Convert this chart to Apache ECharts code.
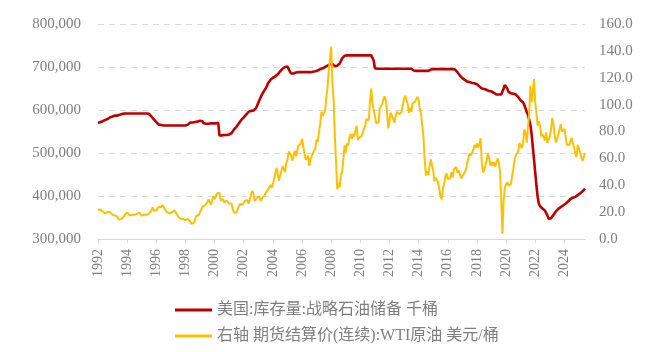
<!DOCTYPE html>
<html>
<head>
<meta charset="utf-8">
<script src="https://cdn.jsdelivr.net/npm/echarts@6/dist/echarts.min.js"></script>
<style>
html,body{margin:0;padding:0;background:#fff;}
#chart{width:665px;height:352px;}
</style>
</head>
<body>
<div id="chart"></div>
<script>
// Monthly categories: 1992-07 .. 2025-12
const startYear = 1992, startMonth = 7, endYear = 2025, endMonth = 12;
const categories = [];
for (let y = startYear, m = startMonth; y < endYear || (y === endYear && m <= endMonth); ) {
  categories.push(y + '-' + (m < 10 ? '0' + m : m));
  m++; if (m > 12) { m = 1; y++; }
}

const seriesNames = ['美国:库存量:战略石油储备 千桶', '右轴 期货结算价(连续):WTI原油 美元/桶'];

// US Strategic Petroleum Reserve, thousand barrels (monthly)
const sprStock = [
  570000,571000,572000,573000,574000,575000,
  577000,578000,579000,581000,583000,584000,585000,586000,587000,587000,587000,588000,
  589000,590000,591000,592000,592000,592000,592000,592000,592000,592000,592000,592000,
  592000,592000,592000,592000,592000,592000,592000,592000,592000,592000,592000,592000,
  591000,588000,585000,582000,578000,575000,572000,568000,566000,565000,565000,564000,
  564000,564000,564000,564000,564000,564000,564000,564000,564000,564000,564000,564000,
  564000,564000,564000,564000,564000,564000,564000,564000,566000,570000,571000,571000,
  571000,571000,572000,572000,573000,574000,575000,575000,574000,569000,568000,568000,
  568000,568000,568000,569000,569000,569000,569000,569000,570000,570000,541000,541000,
  541000,541000,542000,542000,542000,543000,543000,544000,546000,550000,555000,558000,
  561000,565000,569000,573000,577000,580000,583000,586000,589000,592000,596000,598000,
  598000,598000,599000,600000,604000,610000,617000,624000,630000,636000,641000,645000,
  650000,655000,662000,666000,670000,673000,675000,677000,678000,680000,683000,687000,
  690000,693000,696000,698000,700000,701000,701000,700000,690000,685000,684000,685000,
  686000,687000,688000,688000,688000,688000,688000,688000,688000,688000,688000,688000,
  688000,688000,689000,689000,690000,690000,691000,692000,694000,695000,696000,697000,
  698000,700000,702000,703000,705000,706000,707000,707000,703000,702000,702000,703000,
  704000,708000,714000,720000,724000,726000,727000,727000,727000,727000,727000,727000,
  727000,727000,727000,727000,727000,727000,727000,727000,727000,727000,727000,727000,
  727000,727000,727000,727000,727000,715000,697000,696000,696000,696000,696000,696000,
  696000,696000,696000,696000,696000,696000,696000,696000,696000,696000,696000,696000,
  696000,696000,696000,696000,696000,696000,696000,696000,696000,696000,696000,696000,
  696000,695000,692000,691000,691000,691000,691000,691000,691000,691000,691000,691000,
  691000,691000,691000,692000,694000,695000,695000,695000,695000,695000,695000,695000,
  695000,695000,695000,695000,695000,695000,695000,695000,695000,695000,695000,695000,
  694000,692000,688000,684000,680000,676000,674000,672000,670000,667000,666000,665000,
  665000,664000,663000,662000,662000,661000,660000,658000,655000,652000,650000,649000,
  649000,648000,647000,646000,644000,643000,643000,642000,640000,637000,636000,636000,
  636000,636000,636000,640000,650000,658000,656000,650000,642000,640000,639000,638000,
  638000,637000,636000,634000,630000,626000,622000,620000,618000,612000,604000,595000,
  590000,578000,566000,545000,515000,485000,455000,425000,398000,382000,376000,372000,
  371000,369000,366000,362000,355000,347000,346000,348000,352000,356000,360000,364000,
  368000,370000,372000,374000,376000,378000,380000,382000,384000,387000,390000,393000,
  395000,396000,397000,398000,400000,402000,404000,406000,408000,411000,414000,417000
];

// WTI continuous futures settlement, USD/bbl (monthly)
const wtiPrice = [
  21.8,21.4,21.9,21.7,20.3,19.4,
  19.1,20.1,20.3,20.3,19.9,19.1,17.9,18.0,17.5,18.2,16.7,14.5,
  15.0,14.8,14.7,16.4,17.9,19.1,19.7,18.4,17.5,17.7,18.1,17.2,
  18.0,18.6,18.5,19.9,19.7,18.4,17.3,18.0,18.2,17.4,18.0,19.0,
  18.9,19.1,21.3,23.5,21.2,20.4,21.3,22.0,24.0,24.9,23.7,25.4,
  25.2,22.2,21.0,19.7,20.8,19.2,19.6,19.9,19.8,21.3,20.2,18.3,
  16.7,16.1,15.0,15.4,14.9,13.7,14.1,13.4,15.0,14.4,12.9,11.3,
  12.5,12.0,14.7,17.3,17.8,17.9,20.1,21.3,23.9,22.6,25.0,26.1,
  27.2,29.4,29.9,25.7,28.8,31.8,29.7,31.3,33.9,33.1,34.4,28.5,
  29.6,29.6,27.2,27.4,28.6,27.6,26.4,27.4,26.2,22.2,19.6,19.3,
  19.7,20.7,24.4,26.2,27.0,25.5,26.9,28.4,29.7,28.9,26.3,29.4,
  32.9,35.9,33.6,28.3,28.1,30.7,30.8,31.6,28.3,30.3,31.1,32.1,
  34.3,34.7,36.7,36.7,40.3,38.0,40.7,44.9,45.9,53.1,48.5,43.3,
  46.8,48.0,54.3,53.0,49.8,56.4,59.0,65.0,65.6,62.4,58.3,59.4,
  65.5,61.6,62.9,69.4,70.8,70.9,74.4,73.0,63.8,58.9,59.1,62.0,
  54.5,59.3,60.4,64.0,63.5,67.5,74.1,72.4,79.9,85.8,94.8,91.7,
  93.0,95.4,105.5,112.6,125.4,134.0,143.0,116.7,104.1,76.6,57.3,37.0,
  41.7,38.5,48.0,49.8,59.2,69.7,64.3,71.1,69.4,75.7,78.0,74.5,
  78.3,76.4,81.2,84.3,73.7,75.3,76.3,76.6,75.2,81.9,84.3,89.2,
  89.2,88.6,102.9,112.0,100.9,96.3,97.3,86.3,85.5,86.3,97.2,98.6,
  100.3,104.0,106.2,103.3,94.7,82.3,87.9,94.1,94.5,89.5,86.5,87.9,
  94.8,95.3,92.9,92.0,94.5,95.8,104.6,106.6,106.3,100.5,93.9,97.6,
  94.6,100.8,100.8,102.1,102.2,105.8,103.6,96.5,93.2,84.4,75.8,59.3,
  47.2,50.6,47.8,54.5,59.3,59.8,50.9,42.9,45.5,46.2,42.4,37.2,
  31.7,29.5,37.5,40.8,46.7,48.8,44.7,44.7,45.2,49.8,45.7,52.0,
  52.5,53.5,49.3,51.1,48.5,45.2,46.6,48.0,49.8,51.6,56.6,57.9,
  63.7,62.2,62.7,66.3,70.0,67.9,71.0,68.1,70.2,75.0,57.0,49.5,
  51.4,55.0,58.2,63.9,60.8,54.7,57.4,54.8,57.0,54.0,57.0,59.9,
  57.5,50.5,29.2,4.0,28.6,38.3,40.7,42.3,39.6,39.4,41.0,47.0,
  52.0,59.0,62.3,61.7,65.2,71.4,72.5,67.7,71.6,81.5,79.2,71.7,
  83.2,91.6,114.0,101.8,109.6,119.0,101.6,93.7,84.3,87.6,84.4,76.4,
  78.1,76.8,73.3,79.4,71.6,70.3,76.1,81.4,90.0,85.6,77.7,71.9,
  74.2,77.3,81.3,85.4,80.0,79.8,81.8,76.7,70.2,71.6,69.9,70.1,
  75.1,71.5,68.2,63.5,61.0,70.0,67.3,64.0,63.5,58.0,57.0,64.0
];

// Axis ticks
const leftTicks = { min: 300000, max: 800000, step: 100000 };
const rightTicks = { min: 0, max: 160, step: 20 };
const yearLabelEvery = 24; // months

const labelColor = '#7f7f7f';
const serif = "'Liberation Serif', 'Times New Roman', serif";

const chart = echarts.init(document.getElementById('chart'), null, { renderer: 'canvas' });
chart.setOption({
  animation: false,
  backgroundColor: '#ffffff',
  grid: { left: 98, right: 80, top: 24, bottom: 113, containLabel: false },
  legend: {
    orient: 'vertical',
    left: 170,
    top: 297,
    icon: 'rect',
    itemWidth: 37,
    itemHeight: 3,
    itemGap: 10,
    textStyle: { fontSize: 16, color: '#7f7f7f', fontFamily: "'Liberation Serif', 'Noto Sans CJK SC', serif" },
    data: seriesNames
  },
  xAxis: {
    type: 'category',
    data: categories,
    boundaryGap: false,
    axisLine: { show: true, lineStyle: { color: '#d9d9d9', width: 1 } },
    axisTick: { show: true, interval: yearLabelEvery - 1, length: 4, lineStyle: { color: '#d9d9d9' } },
    axisLabel: {
      interval: yearLabelEvery - 1,
      rotate: 90,
      margin: 10,
      color: labelColor,
      fontSize: 14,
      fontFamily: serif,
      formatter: v => v.slice(0, 4)
    },
    splitLine: { show: false }
  },
  yAxis: [
    {
      type: 'value',
      position: 'left',
      min: leftTicks.min, max: leftTicks.max, interval: leftTicks.step,
      axisLine: { show: false }, axisTick: { show: false },
      axisLabel: {
        margin: 17, color: labelColor, fontSize: 15, fontFamily: serif,
        formatter: v => v.toLocaleString('en-US')
      },
      splitLine: { show: true, lineStyle: { color: '#d9d9d9', type: [6, 5], width: 1 } }
    },
    {
      type: 'value',
      position: 'right',
      min: rightTicks.min, max: rightTicks.max, interval: rightTicks.step,
      axisLine: { show: false }, axisTick: { show: false },
      axisLabel: {
        margin: 14, color: labelColor, fontSize: 15, fontFamily: serif,
        formatter: v => v.toFixed(1)
      },
      splitLine: { show: false }
    }
  ],
  series: [
    {
      name: seriesNames[0],
      type: 'line',
      yAxisIndex: 0,
      data: sprStock,
      symbol: 'none',
      lineStyle: { color: '#C00000', width: 2.6 },
      itemStyle: { color: '#C00000' }
    },
    {
      name: seriesNames[1],
      type: 'line',
      yAxisIndex: 1,
      data: wtiPrice,
      symbol: 'none',
      lineStyle: { color: '#FFC000', width: 2 },
      itemStyle: { color: '#FFC000' }
    }
  ]
});
</script>
</body>
</html>
